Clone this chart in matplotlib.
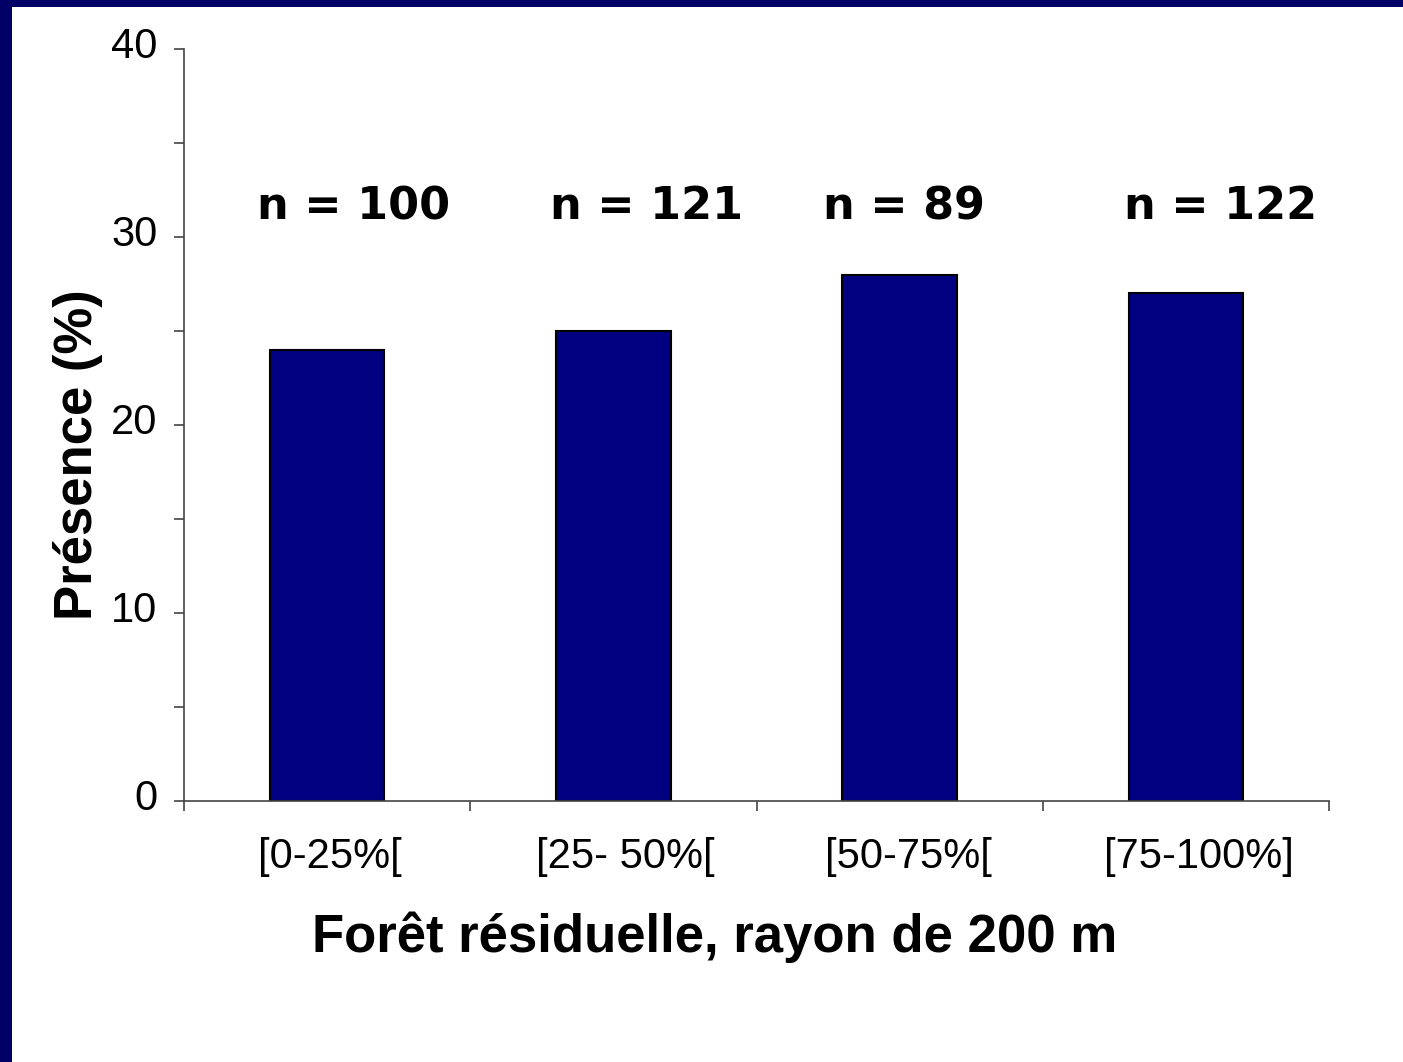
import matplotlib.pyplot as plt
from matplotlib.patches import Rectangle
from matplotlib.ticker import MultipleLocator
from matplotlib.transforms import ScaledTranslation

# data
categories = ['[0-25%[', '[25- 50%[', '[50-75%[', '[75-100%]']
presence = [24, 25, 28, 27]
n_labels = ['n = 100', 'n = 121', 'n = 89', 'n = 122']
yticks = [0, 10, 20, 30, 40]

W, H = 1403, 1062
fig = plt.figure(figsize=(W / 100, H / 100), dpi=100)
fig.patch.set_facecolor('white')

# dark slide border, left and top
fig.patches.append(Rectangle((0, 0), 12 / W, 1, transform=fig.transFigure,
                             facecolor='#000066', edgecolor='none'))
fig.patches.append(Rectangle((0, 1 - 7 / H), 1, 7 / H, transform=fig.transFigure,
                             facecolor='#000066', edgecolor='none'))

# axes box from pixel positions
x0, x1 = 184, 1329
y0, y1 = 801, 49
ax = fig.add_axes([x0 / W, 1 - y0 / H, (x1 - x0) / W, (y0 - y1) / H])

xs = range(len(categories))
ax.bar(xs, presence, width=0.4, color='#000080', edgecolor='black', linewidth=1.5)

ax.set_xlim(-0.5, len(categories) - 0.5)
ax.set_ylim(0, 40)

# n labels, slightly offset like the original slide
n_offsets = [0.094, 0.115, 0.014, 0.122]
for i, (lab, off) in enumerate(zip(n_labels, n_offsets)):
    ax.text(i + off, 31.6, lab, ha='center', va='center', fontsize=32,
            fontweight='bold', family='DejaVu Sans')

ax.spines['top'].set_visible(False)
ax.spines['right'].set_visible(False)
for s in ['left', 'bottom']:
    ax.spines[s].set_color('#444444')
    ax.spines[s].set_linewidth(1.2)

ax.set_yticks(yticks)
ax.yaxis.set_minor_locator(MultipleLocator(5))
ax.set_xticks([i - 0.5 for i in range(len(categories) + 1)], minor=True)
ax.set_xticks(list(xs))
ax.set_xticklabels(categories, family='Liberation Sans', fontsize=30)
ax.tick_params(axis='y', which='both', direction='out', length=7, width=1.2,
               color='#444444', labelsize=30, pad=12)
ax.tick_params(axis='x', which='major', length=0, pad=26)
ax.tick_params(axis='x', which='minor', direction='out', length=7, width=1.2,
               color='#444444')

# y tick labels sit a little above their ticks in the original
lift = ScaledTranslation(0, 6 / 100, fig.dpi_scale_trans)
for t in ax.yaxis.get_major_ticks():
    t.label1.set_family('Liberation Sans')
    t.label1.set_transform(t.label1.get_transform() + lift)

# category labels are nudged right a bit in the original
x_nudge = [3, 12, 9, 13]
for t, dx in zip(ax.xaxis.get_major_ticks(), x_nudge):
    t.label1.set_transform(t.label1.get_transform() +
                           ScaledTranslation(dx / 100, 0, fig.dpi_scale_trans))

ax.set_ylabel('Présence (%)', family='Liberation Sans', fontweight='bold',
              fontsize=38, va='center')
ax.yaxis.set_label_coords(-0.0926, 0.46)
ax.set_xlabel('Forêt résiduelle, rayon de 200 m', family='Liberation Sans',
              fontweight='bold', fontsize=38, va='center')
ax.xaxis.set_label_coords(0.4638, -0.181)

fig.savefig('out.png', dpi=100)
